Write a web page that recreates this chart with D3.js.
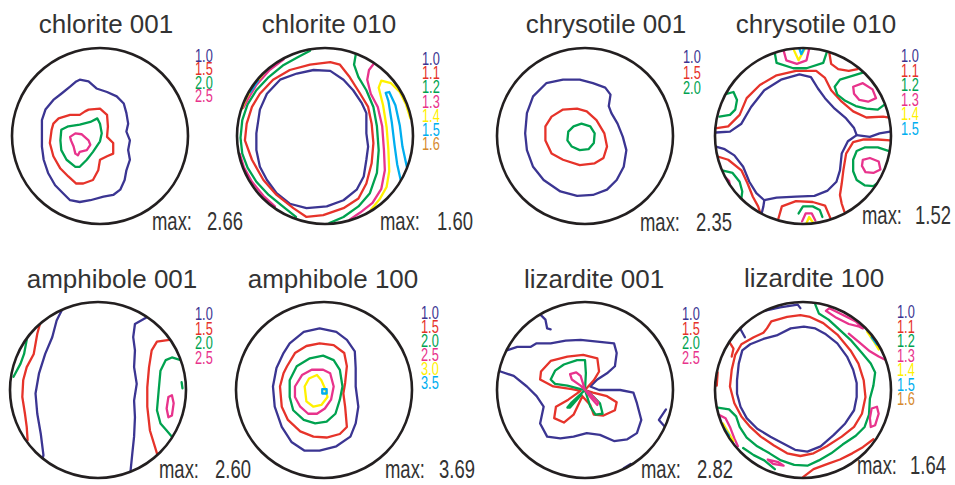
<!DOCTYPE html>
<html>
<head>
<meta charset="utf-8">
<script src="https://d3js.org/d3.v7.min.js"></script>
<style>
body { margin: 0; background: #fff; }
text { font-family: "Liberation Sans", Arial, sans-serif; }
</style>
</head>
<body>
<svg id="chart" width="955" height="485"></svg>
<script>
// ---- data ----
// contour points are in pole-figure units: -100..100 across the circle, v points down
const titles = ["chlorite 001", "chlorite 010", "chrysotile 001", "chrysotile 010",
                "amphibole 001", "amphibole 100", "lizardite 001", "lizardite 100"];
const maxValues = ["2.66", "1.60", "2.35", "1.52", "2.60", "3.69", "2.82", "1.64"];
const levelLabels = [
  ["1.0", "1.5", "2.0", "2.5"],
  ["1.0", "1.1", "1.2", "1.3", "1.4", "1.5", "1.6"],
  ["1.0", "1.5", "2.0"],
  ["1.0", "1.1", "1.2", "1.3", "1.4", "1.5"],
  ["1.0", "1.5", "2.0", "2.5"],
  ["1.0", "1.5", "2.0", "2.5", "3.0", "3.5"],
  ["1.0", "1.5", "2.0", "2.5"],
  ["1.0", "1.1", "1.2", "1.3", "1.4", "1.5", "1.6"]
];

// [level index, closed?, points]
const chlorite001 = [
  [0, 1, [[-23,-64],[-13,-62],[-4,-54],[8,-50],[19,-45],[27,-37],[30,-26],[32,-14],[30,-5],[34,5],[32,16],[34,27],[30,39],[28,50],[23,61],[15,67],[4,69],[-11,73],[-23,75],[-34,73],[-42,65],[-51,56],[-59,42],[-64,27],[-66,12],[-66,-3],[-66,-18],[-62,-30],[-53,-41],[-44,-48],[-34,-56],[-27,-62]]],
  [1, 1, [[-13,-30],[0,-31],[8,-24],[9,-11],[8,1],[15,8],[15,20],[8,23],[0,27],[-2,39],[-8,50],[-19,54],[-27,54],[-36,46],[-45,37],[-53,23],[-57,8],[-55,-7],[-53,-14],[-47,-20],[-34,-24],[-23,-24],[-17,-28]]],
  [2, 1, [[-44,-7],[-36,-11],[-23,-13],[-11,-16],[-3,-20],[0,-14],[2,-3],[0,6],[-8,18],[-15,27],[-23,35],[-28,35],[-38,27],[-44,16],[-45,5]]],
  [3, 1, [[-34,1],[-28,-3],[-21,-2],[-13,5],[-11,10],[-15,16],[-23,18],[-25,22],[-28,20],[-30,12],[-33,5]]]
];

const chlorite010 = [
  [0, 1, [[-78,-3],[-74,-30],[-66,-48],[-51,-64],[-32,-71],[-13,-75],[6,-74],[21,-64],[32,-52],[42,-37],[47,-26],[47,-3],[49,12],[47,27],[44,46],[36,61],[21,73],[2,80],[-21,82],[-40,77],[-55,65],[-66,50],[-74,35],[-78,16]]],
  [1, 1, [[-91,5],[-89,-14],[-83,-33],[-74,-48],[-59,-64],[-40,-75],[-17,-81],[6,-84],[17,-81],[28,-67],[40,-48],[49,-33],[53,-14],[55,8],[53,31],[47,54],[38,71],[21,82],[-2,90],[-21,92],[-36,82],[-55,67],[-70,50],[-83,27]]],
  [2, 0, [[35,-93],[33,-81],[38,-67],[47,-52],[55,-33],[59,-11],[61,16],[59,42],[51,65],[38,80],[21,92],[5,99]]],
  [2, 0, [[-17,-97],[-30,-90],[-48,-80],[-65,-66],[-78,-52],[-88,-36],[-94,-18],[-96,2],[-94,20],[-88,36],[-78,52],[-64,67],[-48,80],[-33,92]]],
  [3, 0, [[56,-83],[50,-75],[48,-64],[52,-48],[60,-33],[65,-11],[67,16],[68,39],[64,60],[54,76],[40,87],[28,95]]],
  [3, 0, [[-47,-87],[-63,-75],[-78,-58],[-87,-43],[-93,-32]]],
  [3, 0, [[-97,20],[-92,36],[-83,52],[-70,68],[-57,80]]],
  [4, 0, [[97,-20],[92,-36],[85,-50],[75,-60],[64,-63],[61,-55],[66,-35],[70,-10],[72,15],[73,40],[70,58],[62,72],[52,84]]],
  [4, 0, [[-70,-71],[-82,-56],[-90,-42],[-95,-30]]],
  [5, 0, [[93,35],[88,12],[85,-12],[80,-35],[73,-50],[69,-49],[72,-40],[76,-15],[79,10],[82,32],[86,50]]],
  [5, 0, [[-76,-63],[-85,-50]]]
];

const chrysotile001 = [
  [0, 1, [[-59,-45],[-44,-60],[-25,-64],[-6,-64],[9,-60],[23,-55],[29,-47],[27,-34],[30,-26],[37,-14],[43,1],[47,16],[44,35],[36,50],[25,61],[9,67],[-9,68],[-28,63],[-47,50],[-59,35],[-66,16],[-68,-3],[-66,-26]]],
  [1, 1, [[-45,-11],[-38,-22],[-25,-30],[-9,-31],[2,-28],[13,-18],[22,-3],[25,12],[21,25],[11,31],[-6,33],[-25,27],[-38,20],[-45,5]]],
  [2, 1, [[-19,-5],[-13,-11],[-4,-14],[6,-11],[11,-3],[10,8],[4,15],[-6,16],[-15,12],[-20,5]]]
];

const chrysotile010 = [
  [0, 0, [[-99,-4],[-83,-5],[-70,-14],[-59,-33],[-44,-52],[-25,-64],[-4,-70],[9,-67],[17,-54],[25,-43],[36,-31],[49,-20],[58,-9],[61,-1],[51,6],[44,20],[42,39],[38,52],[28,62],[13,68],[-8,69],[-30,70],[-44,73],[-53,65],[-61,52],[-68,35],[-78,22],[-89,15],[-99,12]]],
  [0, 0, [[-44,73],[-45,80],[-47,88]]],
  [0, 0, [[61,-1],[76,1],[87,-3],[99,-5]]],
  [1, 0, [[-98,-9],[-85,-11],[-72,-24],[-64,-43],[-49,-58],[-30,-69],[-8,-74],[15,-74],[25,-66],[32,-52],[44,-39],[57,-28],[72,-21],[91,-22],[98,-21]]],
  [1, 0, [[30,-94],[32,-82],[40,-76],[52,-74],[62,-76]]],
  [1, 0, [[99,5],[85,4],[68,4],[57,7],[49,20],[46,38],[44,54],[42,67],[44,77],[47,86]]],
  [1, 0, [[-28,94],[-24,80],[-8,74],[11,75],[25,79],[31,93]]],
  [1, 0, [[-98,23],[-85,27],[-70,39],[-63,54],[-57,69],[-51,80],[-49,86]]],
  [2, 0, [[-87,-48],[-79,-50],[-75,-41],[-77,-30],[-83,-24],[-95,-22]]],
  [2, 0, [[-92,39],[-80,42],[-72,52],[-69,63],[-70,71]]],
  [2, 0, [[-32,-94],[-30,-83],[-11,-77],[4,-77],[23,-83],[27,-95]]],
  [2, 0, [[68,-72],[55,-68],[42,-64],[36,-56],[39,-47],[48,-40],[60,-34],[72,-31],[85,-30],[93,-36]]],
  [2, 0, [[97,17],[85,13],[70,13],[61,17],[57,27],[57,40],[61,50],[70,56],[80,57],[84,54]]],
  [2, 0, [[-5,88],[0,80],[11,80],[19,84],[22,92]]],
  [3, 0, [[-89,46],[-84,51],[-83,56]]],
  [3, 0, [[-22,-97],[-19,-86],[-7,-82],[4,-86],[7,-99]]],
  [3, 1, [[57,-56],[68,-60],[79,-53],[83,-43],[74,-39],[64,-41],[58,-48]]],
  [3, 1, [[68,27],[76,25],[86,29],[88,38],[80,42],[71,41],[67,34]]],
  [3, 0, [[-1,97],[3,88],[10,88],[14,96]]],
  [4, 0, [[-11,-99],[-5,-86],[2,-99]]],
  [4, 0, [[4,99],[7,92],[11,98]]],
  [5, 0, [[-4,-99],[-2,-93],[1,-99]]]
];

const amphibole001 = [
  [0, 0, [[-41,-91],[-47,-79],[-52,-60],[-60,-41],[-67,-19],[-71,4],[-69,27],[-65,50],[-62,74],[-63,78]]],
  [0, 0, [[56,-83],[42,-75],[40,-60],[42,-45],[41,-26],[44,-7],[41,12],[42,31],[41,53],[39,72],[37,92]]],
  [1, 0, [[-66,-75],[-69,-64],[-73,-41],[-81,-26],[-85,-11],[-86,8],[-83,27],[-81,42],[-80,57]]],
  [1, 0, [[81,-57],[67,-55],[61,-45],[58,-26],[56,-3],[56,19],[59,46],[67,72]]],
  [2, 0, [[-81,-57],[-84,-41],[-88,-30],[-96,-15]]],
  [2, 0, [[94,-34],[84,-37],[77,-34],[71,-22],[69,0],[67,23],[71,38],[78,46],[84,53]]],
  [2, 0, [[95,-9],[96,-2]]],
  [3, 1, [[80,8],[84,6],[86,15],[84,29],[80,31],[78,21]]]
];

const amphibole100 = [
  [0, 1, [[-39,-53],[-23,-66],[-5,-70],[14,-66],[26,-57],[35,-44],[36,-25],[36,-4],[39,19],[36,38],[30,53],[14,64],[-5,69],[-22,69],[-37,59],[-48,42],[-56,19],[-58,-4],[-54,-25],[-46,-42]]],
  [1, 1, [[-42,-27],[-33,-42],[-20,-50],[-5,-53],[11,-51],[23,-42],[26,-27],[24,-8],[22,4],[24,19],[26,42],[18,50],[3,54],[-12,53],[-27,47],[-41,34],[-48,19],[-50,-4],[-46,-19]]],
  [2, 1, [[-39,-11],[-31,-27],[-16,-36],[-1,-39],[11,-34],[18,-23],[21,-4],[18,11],[13,27],[3,36],[-10,38],[-23,34],[-35,23],[-39,8]]],
  [3, 1, [[-33,-4],[-25,-17],[-14,-23],[-1,-23],[7,-19],[11,-4],[8,11],[1,21],[-8,27],[-18,27],[-27,19],[-33,8]]],
  [4, 1, [[-22,-4],[-17,-13],[-8,-17],[-3,-11],[1,-2],[4,8],[-3,17],[-12,19],[-20,13]]],
  [5, 1, [[-2,-1],[3,-1],[3,4],[-2,4]]]
];

const lizardite001 = [
  [0, 0, [[-89,-45],[-77,-49],[-62,-49],[-55,-53],[-39,-53],[-22,-56],[-5,-57],[14,-55],[33,-53],[36,-42],[34,-27],[25,-19],[14,-12],[6,-4],[16,0],[40,0],[55,3],[59,15],[64,34],[59,49],[48,56],[33,58],[17,51],[2,49],[-13,53],[-28,55],[-43,53],[-51,38],[-47,19],[-55,7],[-66,-4],[-81,-16],[-96,-21]]],
  [0, 0, [[-51,-86],[-45,-80],[-43,-70],[-39,-69]]],
  [0, 0, [[92,22],[84,34],[90,41]]],
  [0, 0, [[44,89],[52,84]]],
  [1, 1, [[0,0],[10,-11],[16,-21],[14,-36],[-2,-40],[-20,-38],[-39,-33],[-50,-21],[-51,-12],[-36,-4],[-15,-1],[-5,1],[-19,11],[-33,19],[-35,32],[-24,37],[-13,28],[-3,7],[6,17],[10,28],[21,29],[34,23],[36,14],[25,7],[9,3]]],
  [2, 0, [[0,0],[1,-19],[0,-34],[-9,-34],[-24,-29],[-34,-22],[-39,-12],[-34,-7],[-20,-5],[-5,-1],[0,0],[6,19],[12,28],[20,27],[17,15],[5,3],[0,0],[-15,14],[-20,20],[-17,20],[-4,5]]],
  [3, 0, [[0,0],[-5,-16],[-10,-20],[-17,-18],[-15,-12],[-5,-5],[0,0],[6,8],[14,17],[15,14],[5,3],[0,0]]]
];

const lizardite100 = [
  [0, 1, [[-75,-11],[-73,-30],[-69,-45],[-60,-52],[-45,-58],[-30,-62],[-14,-70],[1,-72],[14,-70],[25,-64],[39,-53],[50,-38],[57,-23],[61,-8],[61,8],[58,23],[48,38],[35,51],[20,64],[5,70],[-9,68],[-22,61],[-37,53],[-52,44],[-64,32],[-71,19],[-75,4]]],
  [0, 0, [[-66,-60],[-71,-69],[-66,-81],[-48,-89],[-26,-94],[-6,-97],[-3,-93]]],
  [1, 1, [[-41,-70],[-36,-78],[-18,-83],[-3,-85],[8,-83],[23,-76],[39,-63],[54,-45],[63,-30],[69,-11],[71,8],[67,27],[58,42],[44,53],[27,64],[12,72],[-3,75],[-18,72],[-33,63],[-48,53],[-60,42],[-70,30],[-78,15],[-83,-4],[-81,-23],[-77,-40],[-70,-52],[-56,-60],[-45,-65]]],
  [1, 0, [[0,99],[12,90],[28,84],[42,79],[56,72],[68,65],[80,56]]],
  [1, 0, [[-84,-55],[-79,-47],[-81,-38]]],
  [1, 0, [[-97,-20],[-98,-5]]],
  [2, 0, [[14,-97],[18,-87],[29,-80],[42,-68],[54,-57],[67,-42],[77,-30],[82,-20],[80,-5],[76,10],[75,28],[70,42],[60,52],[45,62],[32,72],[18,80],[5,86],[-10,85],[-25,80],[-38,72],[-52,64],[-64,54],[-72,42],[-76,30],[-84,22],[-97,20]]],
  [2, 0, [[-68,66],[-56,74],[-44,80],[-32,90]]],
  [3, 1, [[78,21],[84,19],[86,27],[82,40],[77,42],[76,32]]],
  [3, 1, [[26,-90],[38,-82],[52,-75],[64,-72],[68,-70],[60,-78],[42,-87],[30,-93]]],
  [3, 0, [[52,-64],[64,-54],[76,-44],[86,-38],[94,-34]]],
  [3, 0, [[-96,28],[-88,32],[-83,42],[-78,55],[-74,64]]],
  [3, 1, [[-40,79],[-28,82],[-22,86],[-34,84]]],
  [4, 0, [[73,-66],[80,-56],[86,-46]]],
  [4, 0, [[-91,38],[-85,48],[-79,58]]],
  [5, 0, [[78,-60],[84,-52]]],
  [5, 0, [[-90,43],[-84,52]]]
];

const contourSets = [chlorite001, chlorite010, chrysotile001, chrysotile010,
                     amphibole001, amphibole100, lizardite001, lizardite100];

// ---- layout and styles ----
const levelColors = ["#3b3592", "#e6332a", "#00a24f", "#e8338c", "#fff100", "#00aeef", "#d68a2e"];
const R = 88;
const layout = [
  {cx: 100, cy: 136, tx: 106, ty: 33, lx: 195, ly: 62, ls: 13.3, mx: 152, nx: 207, my: 230},
  {cx: 325, cy: 136, tx: 329, ty: 33, lx: 422, ly: 65, ls: 14.2, mx: 380, nx: 437, my: 230},
  {cx: 585, cy: 136, tx: 606, ty: 33, lx: 683, ly: 63, ls: 15.5, mx: 640, nx: 696, my: 231},
  {cx: 803, cy: 136, tx: 816, ty: 33, lx: 901, ly: 62, ls: 14.6, mx: 862, nx: 915, my: 224},
  {cx: 98,  cy: 390, tx: 112, ty: 288, lx: 195, ly: 320, ls: 14.6, mx: 159, nx: 215, my: 478},
  {cx: 324, cy: 390, tx: 333, ty: 288, lx: 421, ly: 319, ls: 14.0, mx: 385, nx: 439, my: 478},
  {cx: 585, cy: 390, tx: 594, ty: 288, lx: 682, ly: 320, ls: 14.7, mx: 641, nx: 697, my: 478},
  {cx: 803, cy: 390, tx: 814, ty: 287, lx: 897, ly: 318, ls: 14.5, mx: 857, nx: 910, my: 474}
];
const narrow = 0.71;

const svg = d3.select("#chart");
const defs = svg.append("defs");

layout.forEach(function(p, i) {
  const x = d3.scaleLinear().domain([-100, 100]).range([p.cx - R, p.cx + R]);
  const y = d3.scaleLinear().domain([-100, 100]).range([p.cy - R, p.cy + R]);

  defs.append("clipPath").attr("id", "clip" + i)
    .append("circle").attr("cx", p.cx).attr("cy", p.cy).attr("r", R);

  const g = svg.append("g");

  // contours
  const lineOpen = d3.line().x(d => x(d[0])).y(d => y(d[1]));
  const lineClosed = d3.line().x(d => x(d[0])).y(d => y(d[1])).curve(d3.curveLinearClosed);
  g.append("g").attr("clip-path", "url(#clip" + i + ")")
    .selectAll("path")
    .data(contourSets[i])
    .enter()
    .append("path")
      .attr("d", d => (d[1] ? lineClosed : lineOpen)(d[2]))
      .attr("fill", "none")
      .attr("stroke", d => levelColors[d[0]])
      .attr("stroke-width", 2.3)
      .attr("stroke-linejoin", "round")
      .attr("stroke-linecap", "round");

  // outline
  g.append("circle")
    .attr("cx", p.cx).attr("cy", p.cy).attr("r", R)
    .attr("fill", "none")
    .attr("stroke", "#231f20")
    .attr("stroke-width", 2.6);

  // title
  g.append("text")
    .attr("x", p.tx).attr("y", p.ty)
    .attr("text-anchor", "middle")
    .attr("font-size", 26)
    .attr("fill", "#333")
    .text(titles[i]);

  // level legend
  g.selectAll(".lev")
    .data(levelLabels[i])
    .enter()
    .append("text")
      .attr("transform", (d, k) => "translate(" + p.lx + "," + (p.ly + k * p.ls) + ") scale(" + narrow + ",1)")
      .attr("font-size", 18)
      .attr("fill", (d, k) => levelColors[k])
      .text(d => d);

  // max value
  g.append("text")
    .attr("transform", "translate(" + p.mx + "," + p.my + ") scale(" + narrow + ",1)")
    .attr("font-size", 26)
    .attr("fill", "#333")
    .text("max:");
  g.append("text")
    .attr("transform", "translate(" + p.nx + "," + p.my + ") scale(" + narrow + ",1)")
    .attr("font-size", 26)
    .attr("fill", "#333")
    .text(maxValues[i]);
});
</script>
</body>
</html>
